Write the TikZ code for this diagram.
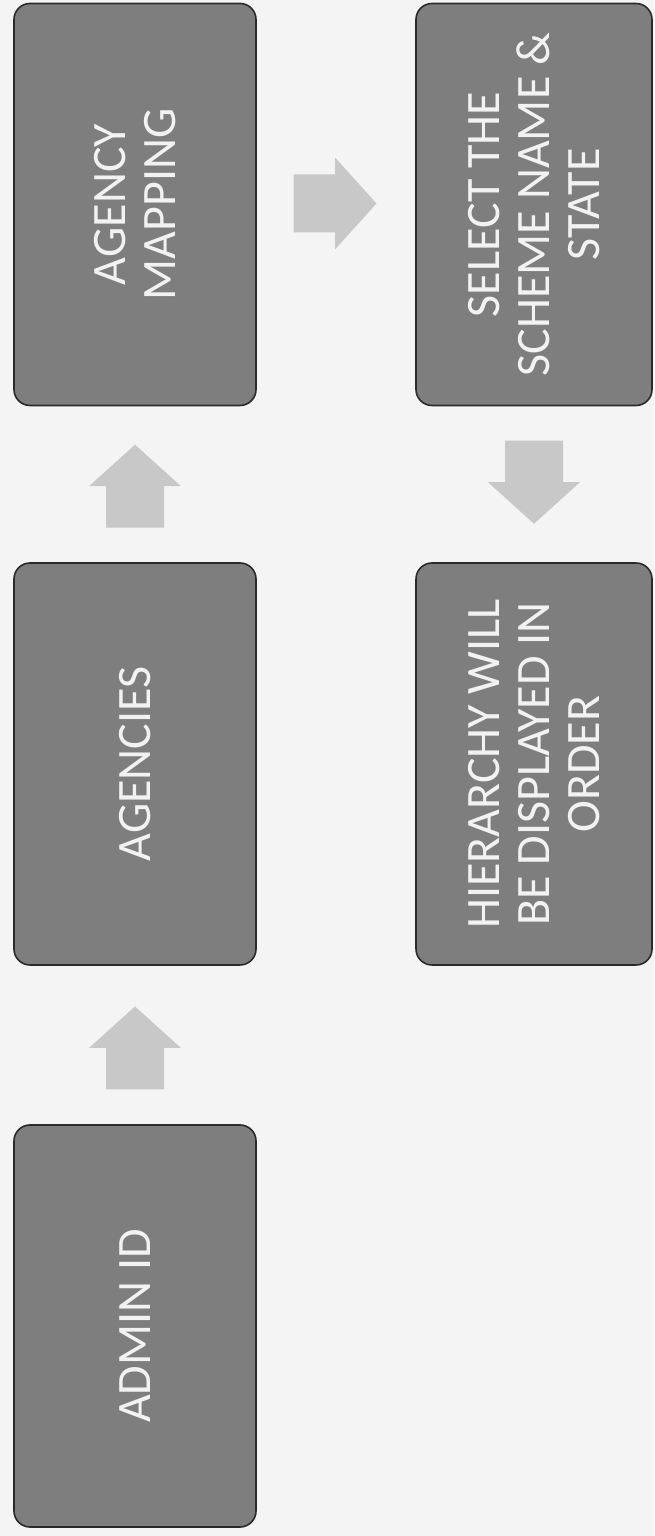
\documentclass[tikz,border=0pt]{standalone}
\usepackage{fontspec}
\setmainfont{Carlito}
\usetikzlibrary{calc}
\definecolor{bg}{HTML}{F4F4F4}
\definecolor{boxfill}{HTML}{7E7E7E}
\definecolor{boxline}{HTML}{2A2A2A}
\definecolor{arrowfill}{HTML}{C8C8C8}
\definecolor{txt}{HTML}{F2F2F2}
\tikzset{
  stepbox/.style={draw=boxline, line width=1.6pt, fill=boxfill, rounded corners=16pt,
    minimum height=402pt, inner sep=0pt},
  leftbox/.style={stepbox, minimum width=242pt},
  rightbox/.style={stepbox, minimum width=236pt},
  boxtext/.style={rotate=90, text=txt, font=\fontsize{48}{50}\selectfont, align=center, inner sep=0pt},
  blockarrow/.pic={\fill[arrowfill] (-41.5,-29) -- (0,-29) -- (0,-46) -- (41.5,0) -- (0,46) -- (0,29) -- (-41.5,29) -- cycle;}
}
\begin{document}
\begin{tikzpicture}[x=1pt,y=1pt]
\fill[bg] (0,0) rectangle (654,1536);
\useasboundingbox (0,0) rectangle (654,1536);

\node[leftbox] (admin) at (135,210) {};
\node[leftbox] (agencies) at (135,772) {};
\node[leftbox] (mapping) at (135,1331.5) {};
\node[rightbox] (select) at (534,1331.5) {};
\node[rightbox] (hierarchy) at (534,772) {};

\node[boxtext] (admintext) at (admin.center) {ADMIN ID};
\node[boxtext] (agenciestext) at (agencies.center) {AGENCIES};
\node[boxtext] (mappingtext) at (mapping.center) {AGENCY\\MAPPING};
\node[boxtext] (selecttext) at (select.center) {SELECT THE\\SCHEME NAME \&\\STATE};
\node[boxtext] (hierarchytext) at (hierarchy.center) {HIERARCHY WILL\\BE DISPLAYED IN\\ORDER};

\coordinate (c1) at ($(admin.north)!0.5!(agencies.south)+(0,-3)$);
\coordinate (c2) at ($(agencies.north)!0.5!(mapping.south)+(0,-2)$);
\coordinate (c3) at ($(mapping.east)!0.5!(select.west)+(-1,1)$);
\coordinate (c4) at ($(hierarchy.north)!0.5!(select.south)+(0,2)$);

\pic[rotate=90] at (c1) {blockarrow};
\pic[rotate=90] at (c2) {blockarrow};
\pic at (c3) {blockarrow};
\pic[rotate=-90] at (c4) {blockarrow};
\end{tikzpicture}
\end{document}
